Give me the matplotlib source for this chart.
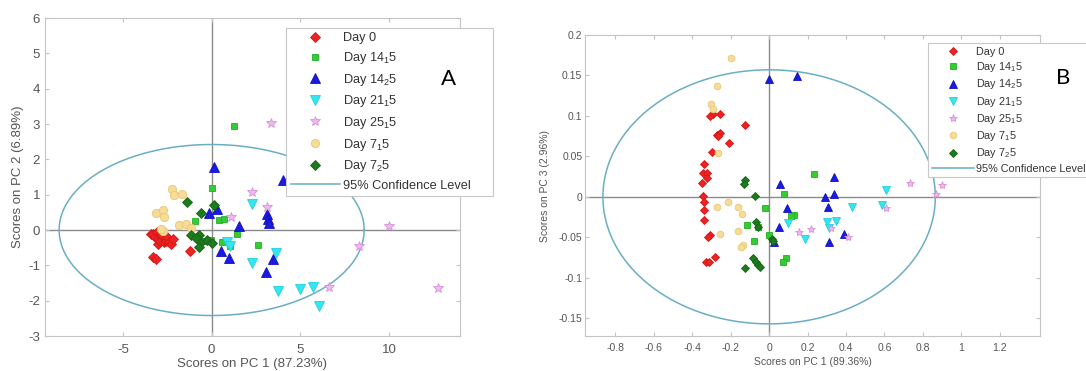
import numpy as np
import matplotlib
matplotlib.use('Agg')
import matplotlib.pyplot as plt

plt.rcParams['font.family'] = ['Liberation Sans', 'DejaVu Sans']
plt.rcParams['mathtext.fontset'] = 'custom'
plt.rcParams['mathtext.rm'] = 'Liberation Sans'
plt.rcParams['mathtext.it'] = 'Liberation Sans'
plt.rcParams['axes.unicode_minus'] = False

labels = ['Day 0', 'Day 14$_1$5', 'Day 14$_2$5', 'Day 21$_1$5',
          'Day 25$_1$5', 'Day 7$_1$5', 'Day 7$_2$5']

# panel A : PC1 vs PC2
a_day0_x = [-3.4, -3.3, -3.2, -3.1, -3.0, -3.0, -2.9, -2.9, -2.8, -2.7, -2.6, -2.5, -2.4, -2.3, -2.2, -3.3, -3.15, -1.2]
a_day0_y = [-0.1, -0.1, -0.2, -0.05, -0.25, -0.4, -0.3, -0.1, -0.15, -0.35, -0.3, -0.2, -0.35, -0.4, -0.25, -0.75, -0.82, -0.6]
a_d141_x = [1.28, 0.0, -0.95, 0.42, 0.68, 1.45, 2.6, -0.05, -0.3, 1.05, 0.6]
a_d141_y = [2.95, 1.18, 0.26, 0.28, 0.3, -0.12, -0.42, -0.27, -0.3, -0.44, -0.33]
a_d142_x = [0.13, -0.13, 0.28, 1.57, 0.5, 0.95, 3.05, 3.45, 4.0, 3.12, 3.18, 3.25]
a_d142_y = [1.78, 0.47, 0.59, 0.1, -0.6, -0.8, -1.18, -0.81, 1.42, 0.45, 0.3, 0.21]
a_d211_x = [2.25, 0.85, 1.03, 2.25, 3.62, 3.72, 5.0, 5.7, 6.05]
a_d211_y = [0.75, -0.33, -0.45, -0.94, -0.64, -1.72, -1.68, -1.62, -2.15]
a_d251_x = [3.33, 2.25, 3.1, 1.07, 8.33, 6.63, 10.0, 12.75]
a_d251_y = [3.02, 1.08, 0.66, 0.36, -0.44, -1.6, 0.11, -1.65]
a_d71_x = [-2.22, -2.13, -1.66, -3.15, -2.73, -2.69, -1.85, -1.46, -1.18, -2.73, -2.85]
a_d71_y = [1.15, 0.99, 1.01, 0.47, 0.57, 0.36, 0.14, 0.16, 0.05, -0.02, 0.03]
a_d72_x = [-1.38, -0.62, 0.13, -1.18, -0.72, -0.62, -0.72, -0.25, 0.04, -0.9]
a_d72_y = [0.8, 0.49, 0.71, -0.14, -0.14, -0.33, -0.47, -0.28, -0.38, -0.24]
a_ell = (8.6, 2.42)

# panel B : PC1 vs PC3
b_day0_x = [-0.255, -0.293, -0.272, -0.255, -0.207, -0.125, -0.298, -0.339, -0.342, -0.321, -0.324, -0.35,
            -0.342, -0.339, -0.339, -0.337, -0.307, -0.316, -0.281, -0.328, -0.313, -0.265, -0.31]
b_day0_y = [0.103, 0.103, 0.077, 0.079, 0.066, 0.089, 0.056, 0.04, 0.029, 0.03, 0.023, 0.017,
            0.001, -0.006, -0.016, -0.028, -0.047, -0.05, -0.074, -0.08, -0.08, 0.075, 0.1]
b_d141_x = [0.078, -0.021, 0.127, 0.112, -0.116, -0.056, -0.003, -0.078, 0.089, 0.071, 0.231]
b_d141_y = [0.004, -0.014, -0.022, -0.024, -0.035, -0.037, -0.047, -0.054, -0.075, -0.08, 0.028]
b_d142_x = [-0.003, 0.144, 0.057, 0.095, 0.054, 0.023, 0.34, 0.292, 0.34, 0.306, 0.391, 0.313]
b_d142_y = [0.146, 0.149, 0.016, -0.014, -0.037, -0.056, 0.025, 0.0, 0.004, -0.013, -0.046, -0.056]
b_d211_x = [0.1, 0.188, 0.609, 0.431, 0.587, 0.3, 0.349, 0.314]
b_d211_y = [-0.032, -0.052, 0.009, -0.013, -0.01, -0.031, -0.03, -0.039]
b_d251_x = [0.153, 0.217, 0.323, 0.408, 0.609, 0.731, 0.868, 0.9]
b_d251_y = [-0.043, -0.04, -0.039, -0.05, -0.014, 0.017, 0.004, 0.015]
b_d71_x = [-0.2, -0.272, -0.302, -0.293, -0.264, -0.212, -0.272, -0.16, -0.142, -0.255, -0.16, -0.134, -0.146]
b_d71_y = [0.171, 0.137, 0.115, 0.108, 0.054, -0.006, -0.013, -0.012, -0.021, -0.046, -0.042, -0.059, -0.062]
b_d72_x = [-0.125, -0.129, -0.073, -0.068, -0.059, 0.014, 0.019, -0.082, -0.068, -0.056, -0.047, -0.125]
b_d72_y = [0.021, 0.016, 0.001, -0.031, -0.037, -0.052, -0.055, -0.076, -0.08, -0.084, -0.087, -0.088]
b_ell = (0.865, 0.157)

# marker, face colour, edge colour
styles = [('D', '#ee2222', '#d01818'),
          ('s', '#33cc33', '#22b022'),
          ('^', '#1a1ae0', '#1010c0'),
          ('v', '#33e6f0', '#22d0e0'),
          ('*', '#f0b8f0', '#d890d8'),
          ('o', '#f6dc96', '#e8c878'),
          ('D', '#1e7a1e', '#146414')]
sizes_a = [5.3, 5, 6.5, 6.5, 7, 6, 5.3]
sizes_b = [4, 4.2, 5.2, 5.2, 6, 4.8, 4]
grey = '#555555'
ell_col = '#6aaec4'


def panel(ax, groups, ell, sizes, leg_box, leg_fs, spacing):
    ax.axhline(0, color='#8a8a8a', lw=1, zorder=1)
    ax.axvline(0, color='#8a8a8a', lw=1, zorder=1)
    for (xs, ys), lab, (m, fc, ec), ms in zip(groups, labels, styles, sizes):
        ax.plot(xs, ys, ls='none', marker=m, ms=ms, mfc=fc, mec=ec, mew=0.6, label=lab, zorder=3)
    t = np.linspace(0, 2 * np.pi, 300)
    ax.plot(ell[0] * np.cos(t), ell[1] * np.sin(t), color=ell_col, lw=1.1,
            label='95% Confidence Level', zorder=2)
    for s in ax.spines.values():
        s.set_color('#c4c4c4')
        s.set_linewidth(0.8)
    ax.tick_params(direction='in', length=3, colors='#c4c4c4', labelcolor=grey,
                   top=True, right=True)
    leg = ax.legend(loc='upper left', bbox_to_anchor=leg_box, bbox_transform=fig.transFigure,
                    mode='expand', fontsize=leg_fs, numpoints=1, fancybox=False, framealpha=1,
                    edgecolor='#c8c8c8', handlelength=3.9, labelspacing=spacing,
                    borderpad=0.35, handletextpad=0.2, borderaxespad=0)
    leg.get_frame().set_linewidth(0.8)
    for txt in leg.get_texts():
        txt.set_color('#333333')
    return leg


fig = plt.figure(figsize=(10.86, 3.71), dpi=100)
ax1 = fig.add_axes([0.0414, 0.0943, 0.3821, 0.8571])
ax2 = fig.add_axes([0.5387, 0.0943, 0.419, 0.8113])

groups_a = [(a_day0_x, a_day0_y), (a_d141_x, a_d141_y), (a_d142_x, a_d142_y), (a_d211_x, a_d211_y),
            (a_d251_x, a_d251_y), (a_d71_x, a_d71_y), (a_d72_x, a_d72_y)]
groups_b = [(b_day0_x, b_day0_y), (b_d141_x, b_d141_y), (b_d142_x, b_d142_y), (b_d211_x, b_d211_y),
            (b_d251_x, b_d251_y), (b_d71_x, b_d71_y), (b_d72_x, b_d72_y)]

panel(ax1, groups_a, a_ell, sizes_a, (0.2634, 0.9245, 0.1906, 0), 9.2, 0.44)
ax1.set_xlim(-9.4, 14.0)
ax1.set_ylim(-3, 6)
ax1.set_xticks([-5, 0, 5, 10])
ax1.set_yticks(range(-3, 7))
ax1.tick_params(labelsize=9.5)
ax1.tick_params(axis='x', pad=6)
ax1.set_xlabel('Scores on PC 1 (87.23%)', fontsize=9.5, color=grey, labelpad=1.5)
ax1.set_ylabel('Scores on PC 2 (6.89%)', fontsize=9.5, color=grey, labelpad=3)

panel(ax2, groups_b, b_ell, sizes_b, (0.8545, 0.884, 0.16, 0), 7.8, 0.3)
ax2.set_xlim(-0.958, 1.41)
ax2.set_ylim(-0.172, 0.2)
ax2.set_xticks([-0.8, -0.6, -0.4, -0.2, 0, 0.2, 0.4, 0.6, 0.8, 1, 1.2])
ax2.set_xticklabels(['-0.8', '-0.6', '-0.4', '-0.2', '0', '0.2', '0.4', '0.6', '0.8', '1', '1.2'])
ax2.set_yticks([-0.15, -0.1, -0.05, 0, 0.05, 0.1, 0.15, 0.2])
ax2.set_yticklabels(['-0.15', '-0.1', '-0.05', '0', '0.05', '0.1', '0.15', '0.2'])
ax2.tick_params(labelsize=7.5)
ax2.tick_params(axis='x', pad=5)
ax2.tick_params(axis='y', pad=2)
ax2.set_xlabel('Scores on PC 1 (89.36%)', fontsize=7.5, color=grey, labelpad=3)
ax2.set_ylabel('Scores on PC 3 (2.96%)', fontsize=7.5, color=grey, labelpad=6)

fig.text(0.4134, 0.787, 'A', fontsize=16, family=['Lato', 'DejaVu Sans'], ha='center', va='center')
fig.text(0.979, 0.79, 'B', fontsize=16, family=['Lato', 'DejaVu Sans'], ha='center', va='center')

fig.savefig('out.png', dpi=100)
